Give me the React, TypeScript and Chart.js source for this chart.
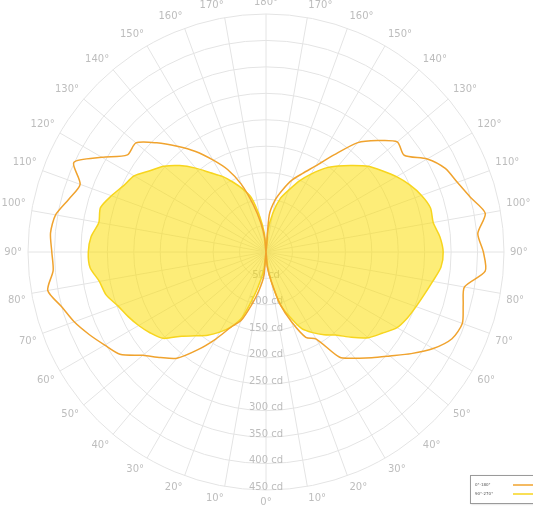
import React, { useEffect, useRef } from 'react';
import { Chart, registerables } from 'chart.js';

Chart.register(...registerables);

// Gamma angles (degrees) of the samples on each half of the diagram
const gammaAngles = [0, 5, 10, 15, 20, 25, 30, 35, 40, 45, 50, 55, 60, 65, 70, 75, 80, 85, 90,
  95, 100, 105, 110, 115, 120, 125, 130, 135, 140, 145, 150, 155, 160, 165, 170, 175, 180];

// C0-C180 plane (orange), cd — left half and right half
const orangeLeft = [0, 45, 72, 102, 138, 157, 190, 226, 262, 282, 304, 337, 352, 369, 386, 400, 419, 404, 405,
  409, 404, 386, 374, 401, 358, 320, 321, 292, 261, 232, 201, 172, 136, 92, 55, 25, 0];
const orangeRight = [0, 28, 55, 101, 140, 178, 190, 243, 262, 283, 306, 335, 365, 388, 395, 386, 381, 416, 411,
  402, 421, 400, 385, 374, 352, 319, 324, 298, 270, 224, 188, 164, 145, 122, 100, 70, 0];

// C90-C270 plane (yellow), cd — left half and right half
const yellowLeft = [0, 25, 50, 85, 131, 156, 175, 192, 207, 225, 254, 267, 278, 288, 298, 313, 320, 334, 336,
  332, 321, 324, 311, 297, 288, 268, 252, 231, 207, 183, 165, 145, 126, 106, 68, 35, 0];
const yellowRight = [0, 25, 55, 102, 130, 160, 176, 191, 205, 228, 252, 268, 286, 295, 302, 310, 320, 332, 335,
  330, 321, 322, 313, 300, 285, 268, 252, 231, 212, 193, 170, 148, 124, 105, 75, 40, 0];

const radialTicks = [50, 100, 150, 200, 250, 300, 350, 400, 450];
const seriesLabels = ['0°-180°', '90°-270°'];
const seriesColors = ['#F0A32E', '#F7D51E'];
const yellowFill = 'rgba(252, 222, 10, 0.55)';

const TEXT_GREY = '#bdbdbd';
const GRID_GREY = '#e4e4e4';
const FONT = '"DejaVu Sans", Verdana, sans-serif';

function buildLabels(): string[] {
  const out: string[] = [];
  // index walks clockwise from the bottom: left half first, then the right half back up
  for (let i = 0; i < gammaAngles.length; i++) out.push(gammaAngles[i] % 10 === 0 ? `${gammaAngles[i]}°` : '');
  for (let i = gammaAngles.length - 2; i >= 1; i--) out.push(gammaAngles[i] % 10 === 0 ? `${gammaAngles[i]}°` : '');
  return out;
}

function buildSeries(left: number[], right: number[]): number[] {
  const out: number[] = [];
  for (let i = 0; i < left.length; i++) out.push(left[i]);
  for (let i = right.length - 2; i >= 1; i--) out.push(right[i]);
  return out;
}

const tickLabelPlugin = {
  id: 'cdTickLabels',
  beforeDatasetsDraw(chart: any) {
    const s = chart.scales.r;
    const ctx = chart.ctx;
    ctx.save();
    ctx.font = `10px ${FONT}`;
    ctx.fillStyle = TEXT_GREY;
    ctx.textAlign = 'center';
    ctx.textBaseline = 'middle';
    radialTicks.forEach((v) => {
      const d = s.getDistanceFromCenterForValue(v);
      ctx.fillText(`${v} cd`, s.xCenter, s.yCenter + d - 3);
    });
    ctx.restore();
  },
};

const legendBoxPlugin = {
  id: 'legendBox',
  afterDraw(chart: any) {
    const ctx = chart.ctx;
    const x = chart.width - 63;
    const y = chart.height - 33;
    ctx.save();
    ctx.fillStyle = '#ffffff';
    ctx.shadowColor = 'rgba(0,0,0,0.25)';
    ctx.shadowBlur = 2;
    ctx.shadowOffsetX = 1;
    ctx.shadowOffsetY = 1;
    ctx.fillRect(x, y, 80, 28);
    ctx.shadowColor = 'transparent';
    ctx.strokeStyle = '#9a9a9a';
    ctx.lineWidth = 1;
    ctx.strokeRect(x + 0.5, y + 0.5, 80, 28);
    ctx.textBaseline = 'middle';
    ctx.textAlign = 'left';
    ctx.font = `4px ${FONT}`;
    chart.data.datasets.forEach((ds: any, i: number) => {
      const ty = y + 10 + i * 9;
      ctx.fillStyle = '#555555';
      ctx.fillText(ds.label, x + 5, ty);
      ctx.strokeStyle = ds.borderColor;
      ctx.lineWidth = 1.5;
      ctx.beginPath();
      ctx.moveTo(x + 43, ty);
      ctx.lineTo(x + 80, ty);
      ctx.stroke();
    });
    ctx.restore();
  },
};

export default function App() {
  const ref = useRef<HTMLCanvasElement>(null);

  useEffect(() => {
    if (!ref.current) return;
    const chart = new Chart(ref.current, {
      type: 'radar',
      data: {
        labels: buildLabels(),
        datasets: [
          {
            label: seriesLabels[0],
            data: buildSeries(orangeLeft, orangeRight),
            borderColor: seriesColors[0],
            backgroundColor: 'transparent',
            borderWidth: 1.5,
            fill: false,
            pointRadius: 0,
            tension: 0.25,
          },
          {
            label: seriesLabels[1],
            data: buildSeries(yellowLeft, yellowRight),
            borderColor: seriesColors[1],
            backgroundColor: yellowFill,
            borderWidth: 1.5,
            fill: true,
            pointRadius: 0,
            tension: 0.25,
          },
        ],
      },
      options: {
        responsive: false,
        animation: false,
        plugins: {
          legend: { display: false },
          tooltip: { enabled: false },
        },
        scales: {
          r: {
            min: 0,
            max: 450,
            startAngle: 180,
            ticks: { display: false, stepSize: 50 },
            grid: { color: GRID_GREY, circular: true, lineWidth: 1 },
            angleLines: {
              color: (c: any) => (c.index % 2 === 0 ? GRID_GREY : 'transparent'),
              lineWidth: 1,
            },
            pointLabels: {
              font: { family: FONT, size: 10 },
              color: TEXT_GREY,
              padding: 6,
            },
          },
        },
      },
      plugins: [tickLabelPlugin, legendBoxPlugin],
    } as any);
    return () => chart.destroy();
  }, []);

  return (
    <div style={{ position: 'absolute', left: 0, top: 0, width: 533, height: 508, overflow: 'hidden', background: '#fff' }}>
      <canvas ref={ref} width={533} height={512} style={{ display: 'block', position: 'absolute', left: 0, top: -4 }} />
    </div>
  );
}
